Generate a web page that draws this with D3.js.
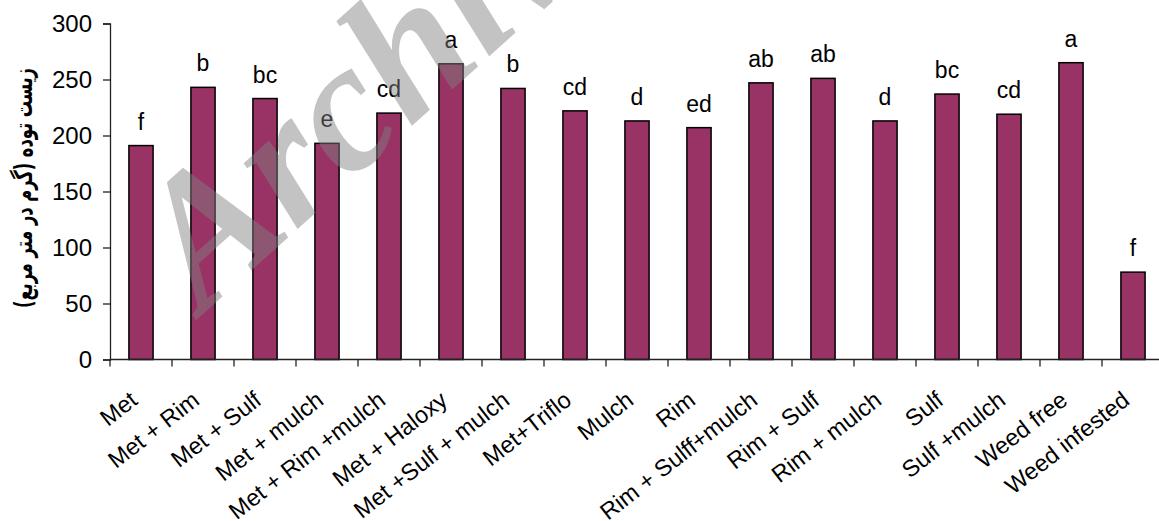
<!DOCTYPE html>
<html>
<head>
<meta charset="utf-8">
<script src="https://cdn.jsdelivr.net/npm/d3@7"></script>
<style>
  html, body { margin: 0; padding: 0; background: #fff; }
  svg { display: block; }
</style>
</head>
<body>
<svg id="chart" width="1159" height="521"></svg>
<script>
const categories = ["Met","Met + Rim","Met + Sulf","Met + mulch","Met + Rim +mulch","Met + Haloxy","Met +Sulf + mulch","Met+Triflo","Mulch","Rim","Rim + Sulff+mulch","Rim + Sulf","Rim + mulch","Sulf","Sulf +mulch","Weed free","Weed infested"];
const values = [191, 243, 233, 193, 220, 264, 242, 222, 213, 207, 247, 251, 213, 237, 219, 265, 78];
const letters = ["f","b","bc","e","cd","a","b","cd","d","ed","ab","ab","d","bc","cd","a","f"];
const yTicks = [0, 50, 100, 150, 200, 250, 300];
const yLabel = "زیست توده (گرم در متر مربع)";
const watermark = "Archive";

const svg = d3.select("#chart");
const font = "'Liberation Sans', Arial, sans-serif";

const x = d3.scaleBand().domain(categories).range([110, 1164]).padding(0);
const y = d3.scaleLinear().domain([0, 300]).range([359.5, 23.5]);

const barW = x.bandwidth() * 0.39;

// bars
svg.append("g").selectAll("rect").data(values).join("rect")
  .attr("x", (d, i) => x(categories[i]) + x.bandwidth() / 2 - barW / 2)
  .attr("y", d => y(d))
  .attr("width", barW)
  .attr("height", d => y(0) - y(d))
  .attr("fill", "#993366")
  .attr("stroke", "#000")
  .attr("stroke-width", 1.5);

// significance letters
svg.append("g").selectAll("text").data(letters).join("text")
  .attr("x", (d, i) => x(categories[i]) + x.bandwidth() / 2)
  .attr("y", (d, i) => y(values[i]) - 16)
  .attr("text-anchor", "middle")
  .attr("font-family", font)
  .attr("font-size", 23)
  .attr("fill", "#000")
  .text(d => d);

// y axis
const yAxis = d3.axisLeft(y).tickValues(yTicks).tickSize(7).tickPadding(11);
const gy = svg.append("g").attr("transform", "translate(110,0)").call(yAxis);
gy.select(".domain").attr("stroke", "#222").attr("stroke-width", 1.3);
gy.selectAll(".tick line").attr("stroke", "#222").attr("stroke-width", 1.3);
gy.selectAll(".tick text").attr("font-family", font).attr("font-size", 24).attr("fill", "#000");

// x axis (ticks between categories)
const gx = svg.append("g");
gx.append("line")
  .attr("x1", x.range()[0]).attr("x2", x.range()[1])
  .attr("y1", y(0)).attr("y2", y(0))
  .attr("stroke", "#222").attr("stroke-width", 1.3);
const boundaries = categories.map(c => x(c)).concat([x.range()[1]]);
gx.selectAll("line.tk").data(boundaries).join("line")
  .attr("class", "tk")
  .attr("x1", d => d).attr("x2", d => d)
  .attr("y1", y(0)).attr("y2", y(0) + 7)
  .attr("stroke", "#222").attr("stroke-width", 1.3);
gx.selectAll("text").data(categories).join("text")
  .attr("transform", d => `translate(${x(d) + x.bandwidth() / 2 - 2},${403}) rotate(-38)`)
  .attr("text-anchor", "end")
  .attr("font-family", font)
  .attr("font-size", 23.5)
  .attr("fill", "#000")
  .text(d => d);

// y label
const yl = svg.append("text")
  .attr("transform", "translate(32,188) rotate(-90)")
  .attr("text-anchor", "middle")
  .attr("direction", "rtl")
  .attr("font-family", "'DejaVu Sans Condensed', 'DejaVu Sans', sans-serif")
  .attr("font-weight", "bold")
  .attr("font-size", 25)
  .attr("fill", "#000")
  .text(yLabel);
const len = yl.node().getComputedTextLength();
if (len > 0) yl.attr("transform", `translate(32,188) rotate(-90) scale(${240 / len},1)`);

// watermark
svg.append("text")
  .attr("transform", "translate(203,314) rotate(-42)")
  .attr("font-family", "'Liberation Serif', 'Times New Roman', serif")
  .attr("font-weight", "bold")
  .attr("font-style", "italic")
  .attr("font-size", 185)
  .attr("fill", "rgb(128,128,128)")
  .attr("fill-opacity", 0.47)
  .text(watermark);
</script>
</body>
</html>
